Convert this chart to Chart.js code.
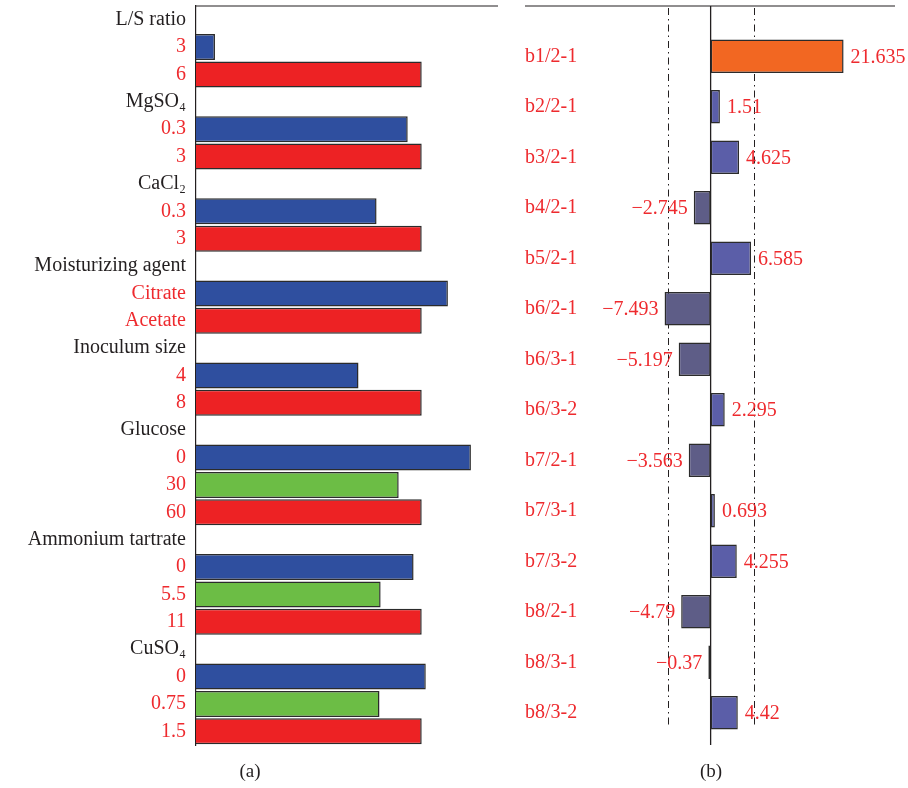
<!DOCTYPE html>
<html>
<head>
<meta charset="utf-8">
<script src="https://cdn.jsdelivr.net/npm/chart.js@4"></script>
<style>
  body { margin: 0; background: #fff; width: 908px; height: 788px; position: relative; overflow: hidden; }
  canvas { position: absolute; top: 0; }
  #left { left: 0; }
  #right { left: 505px; }
  .cap { position: absolute; top: 760px; font: 19px "Liberation Serif", serif; color: #231f20; transform: translateX(-50%); }
</style>
</head>
<body>
<canvas id="left" width="505" height="788"></canvas>
<canvas id="right" width="403" height="788"></canvas>
<div class="cap" style="left:250px">(a)</div>
<div class="cap" style="left:711px">(b)</div>
<script>
// panel (a): factor headers + levels, one bar per level
const factorRows = ['L/S ratio', '3', '6', 'MgSO₄', '0.3', '3', 'CaCl₂', '0.3', '3',
  'Moisturizing agent', 'Citrate', 'Acetate', 'Inoculum size', '4', '8',
  'Glucose', '0', '30', '60', 'Ammonium tartrate', '0', '5.5', '11',
  'CuSO₄', '0', '0.75', '1.5'];
const levelValues = [null, 8.4, 100, null, 93.8, 100, null, 80, 100,
  null, 111.6, 100, null, 72, 100,
  null, 121.8, 89.8, 100, null, 96.4, 81.8, 100,
  null, 101.8, 81.3, 100];
const levelRank = [null, 'low', 'high', null, 'low', 'high', null, 'low', 'high',
  null, 'low', 'high', null, 'low', 'high',
  null, 'low', 'mid', 'high', null, 'low', 'mid', 'high',
  null, 'low', 'mid', 'high'];

// panel (b): coefficients
const coefLabels = ['b1/2-1', 'b2/2-1', 'b3/2-1', 'b4/2-1', 'b5/2-1', 'b6/2-1', 'b6/3-1',
  'b6/3-2', 'b7/2-1', 'b7/3-1', 'b7/3-2', 'b8/2-1', 'b8/3-1', 'b8/3-2'];
const coefValues = [21.635, 1.51, 4.625, -2.745, 6.585, -7.493, -5.197,
  2.295, -3.563, 0.693, 4.255, -4.79, -0.37, 4.42];
const refLines = [-7, 7];

const serif = '"Liberation Serif", "DejaVu Serif", serif';
const red = '#ee2a2e';
const ink = '#231f20';
const rankColor = { low: '#2f4f9f', mid: '#6cbd45', high: '#ed2224' };

const topLine = {
  id: 'topLine',
  afterDraw(chart, args, opts) {
    const c = chart.ctx, a = chart.chartArea;
    c.save();
    c.strokeStyle = ink;
    c.lineWidth = 1.2;
    c.beginPath();
    const y = a.top - (opts.lift || 0);
    c.moveTo(opts.fromScale ? chart.scales.y.left : a.left, y);
    c.lineTo(a.right, y);
    c.stroke();
    c.restore();
  }
};

new Chart(document.getElementById('left'), {
  type: 'bar',
  data: {
    labels: factorRows,
    datasets: [{
      data: levelValues,
      backgroundColor: levelRank.map(r => r ? rankColor[r] : 'transparent'),
      borderColor: '#2b2b2b',
      borderWidth: 1.5,
      barPercentage: 0.95,
      categoryPercentage: 1
    }]
  },
  options: {
    indexAxis: 'y',
    responsive: false,
    animation: false,
    layout: { padding: { top: 6, bottom: 43, left: 0, right: 7 } },
    plugins: { legend: { display: false }, tooltip: { enabled: false }, topLine: {} },
    scales: {
      x: { display: false, min: 0, max: 133.8 },
      y: {
        afterFit: s => { s.width = 196; s.paddingTop = 0; s.paddingBottom = 0; },
        grid: { display: false },
        border: { display: true, color: ink, width: 1.2 },
        ticks: {
          padding: 2,
          font: { family: serif, size: 20 },
          color: c => levelRank[c.index] ? red : ink
        }
      }
    }
  },
  plugins: [topLine]
});

const coefDecor = {
  id: 'coefDecor',
  beforeDatasetsDraw(chart) {
    const c = chart.ctx, a = chart.chartArea, x = chart.scales.x;
    c.save();
    c.strokeStyle = ink;
    c.lineWidth = 1;
    c.setLineDash([7, 4, 1.5, 4]);
    refLines.forEach(v => {
      const px = Math.round(x.getPixelForValue(v)) + 0.5;
      c.beginPath();
      c.moveTo(px, a.top - 23);
      c.lineTo(px, a.bottom - 10);
      c.stroke();
    });
    c.setLineDash([]);
    c.lineWidth = 1.3;
    const z = x.getPixelForValue(0);
    c.beginPath();
    c.moveTo(z, a.top - 25);
    c.lineTo(z, a.bottom + 7);
    c.stroke();
    c.restore();
  },
  afterDatasetsDraw(chart) {
    const c = chart.ctx;
    c.save();
    c.font = '20px ' + serif;
    c.fillStyle = red;
    c.textBaseline = 'middle';
    chart.getDatasetMeta(0).data.forEach((bar, i) => {
      const v = coefValues[i];
      const t = v < 0 ? '\u2212' + Math.abs(v) : String(v);
      c.textAlign = v < 0 ? 'right' : 'left';
      c.fillText(t, v < 0 ? bar.x - 6 : bar.x + 7, bar.y + 1);
    });
    c.restore();
  }
};

new Chart(document.getElementById('right'), {
  type: 'bar',
  data: {
    labels: coefLabels,
    datasets: [{
      data: coefValues,
      backgroundColor: coefValues.map((v, i) => i === 0 ? '#f26722' : v < 0 ? '#5e5d87' : '#5b5ea8'),
      borderColor: '#2b2b2b',
      borderWidth: 1.5,
      borderSkipped: false,
      barPercentage: 0.66,
      categoryPercentage: 1
    }]
  },
  options: {
    indexAxis: 'y',
    responsive: false,
    animation: false,
    layout: { padding: { top: 31, bottom: 50, left: 20, right: 13 } },
    plugins: { legend: { display: false }, tooltip: { enabled: false }, topLine: { lift: 25, fromScale: true } },
    scales: {
      x: { display: false, min: -18, max: 30 },
      y: {
        afterFit: s => { s.width = 75; s.paddingTop = 0; s.paddingBottom = 0; },
        grid: { display: false },
        border: { display: false },
        ticks: {
          padding: 0,
          crossAlign: 'far',
          font: { family: serif, size: 20 },
          color: red
        }
      }
    }
  },
  plugins: [topLine, coefDecor]
});
</script>
</body>
</html>
